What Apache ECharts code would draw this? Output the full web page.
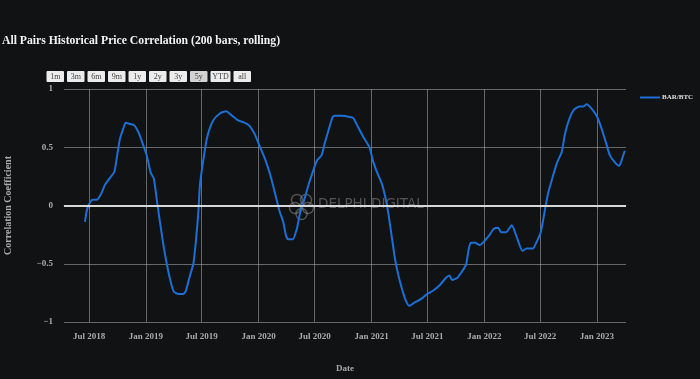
<!DOCTYPE html>
<html><head><meta charset="utf-8">
<script src="https://cdn.jsdelivr.net/npm/echarts@6/dist/echarts.min.js"></script>
<style>html,body{margin:0;padding:0;background:#111214;}#c{width:700px;height:379px;}</style>
</head><body><div id="c"></div>
<script>
const TITLE = 'All Pairs Historical Price Correlation (200 bars, rolling)';
const SERIES_NAME = 'BAR/BTC';
const Y_TICKS = [-1, -0.5, 0, 0.5, 1];
const RANGE_BUTTONS = ['1m','3m','6m','9m','1y','2y','3y','5y','YTD','all'];
const DATES = [
'2018-06-18','2018-06-24','2018-07-01','2018-07-12','2018-07-24','2018-07-31','2018-08-11','2018-08-22','2018-09-05','2018-09-21',
'2018-09-29','2018-10-09','2018-10-20','2018-10-28','2018-11-11','2018-11-24','2018-12-08','2018-12-22','2019-01-04','2019-01-17',
'2019-01-27','2019-02-05','2019-02-14','2019-02-27','2019-03-12','2019-03-23','2019-04-02','2019-04-16','2019-05-02','2019-05-11',
'2019-05-24','2019-06-04','2019-06-12','2019-06-20','2019-06-25','2019-07-04','2019-07-18','2019-08-07','2019-08-29','2019-09-18',
'2019-10-03','2019-10-27','2019-11-18','2019-12-04','2019-12-20','2020-01-06','2020-01-22','2020-02-07','2020-02-23','2020-03-08',
'2020-03-21','2020-03-30','2020-04-06','2020-04-21','2020-05-04','2020-05-14','2020-05-27','2020-06-10','2020-06-26','2020-07-09',
'2020-07-23','2020-08-03','2020-08-14','2020-08-28','2020-09-05','2020-09-26','2020-10-23','2020-11-03','2020-11-19','2020-12-05',
'2020-12-25','2021-01-07','2021-01-18','2021-02-03','2021-02-13','2021-02-24','2021-03-07','2021-03-18','2021-03-29','2021-04-09',
'2021-04-21','2021-05-03','2021-05-22','2021-06-12','2021-06-30','2021-07-20','2021-08-11','2021-08-30','2021-09-10','2021-09-19',
'2021-10-06','2021-10-20','2021-11-03','2021-11-10','2021-11-18','2021-12-02','2021-12-18','2022-01-03','2022-01-19','2022-02-01',
'2022-02-15','2022-02-24','2022-03-12','2022-03-31','2022-04-16','2022-05-05','2022-05-18','2022-06-07','2022-06-20','2022-07-03',
'2022-07-17','2022-07-27','2022-08-10','2022-08-25','2022-09-09','2022-09-19','2022-10-03','2022-10-18','2022-11-05','2022-11-18',
'2022-11-29','2022-12-15','2022-12-31','2023-01-16','2023-01-30','2023-02-12','2023-02-28','2023-03-14','2023-03-22','2023-04-01'
];
const VALUES = [
-0.14,-0.04,0.01,0.05,0.05,0.06,0.11,0.18,0.23,0.29,
0.41,0.57,0.66,0.71,0.70,0.69,0.63,0.53,0.43,0.28,
0.23,0.06,-0.11,-0.34,-0.53,-0.66,-0.74,-0.76,-0.76,-0.73,
-0.60,-0.50,-0.31,-0.06,0.17,0.35,0.58,0.73,0.79,0.81,
0.78,0.73,0.71,0.68,0.61,0.50,0.40,0.27,0.11,-0.04,
-0.14,-0.26,-0.29,-0.29,-0.20,-0.07,0.04,0.17,0.30,0.39,
0.43,0.54,0.64,0.76,0.77,0.77,0.76,0.75,0.67,0.59,
0.50,0.37,0.29,0.19,0.09,-0.06,-0.26,-0.46,-0.60,-0.71,
-0.81,-0.86,-0.83,-0.80,-0.76,-0.73,-0.68,-0.62,-0.60,-0.64,
-0.62,-0.57,-0.51,-0.40,-0.32,-0.32,-0.34,-0.30,-0.25,-0.20,
-0.19,-0.23,-0.23,-0.17,-0.27,-0.39,-0.37,-0.37,-0.31,-0.23,
-0.03,0.11,0.24,0.37,0.46,0.61,0.74,0.82,0.85,0.85,
0.87,0.83,0.77,0.66,0.54,0.43,0.37,0.34,0.39,0.47
];
const X_MIN = '2018-04-11';
const X_MAX = '2023-04-05';
const MONTHS = ['Jan','Feb','Mar','Apr','May','Jun','Jul','Aug','Sep','Oct','Nov','Dec'];

const chart = echarts.init(document.getElementById('c'));
const SERIF = '"Liberation Serif", "DejaVu Serif", serif';
const gridCol = 'rgba(160,160,160,0.6)';
const labCol = '#a9a9a9';

const buttons = [];
let bx = 46.5;
RANGE_BUTTONS.forEach((b, i) => {
  const w = b === 'YTD' ? 20 : 17.5;
  buttons.push({
    type: 'group', left: bx, top: 71,
    children: [
      {type: 'rect', shape: {x: 0, y: 0, width: w, height: 11, r: 1},
       style: {fill: b === '5y' ? '#d2d2d2' : '#ececec'}},
      {type: 'text', x: w / 2, y: 5.8,
       style: {text: b, fill: '#444', font: '8px ' + SERIF, textAlign: 'center', textVerticalAlign: 'middle'}}
    ]
  });
  bx += w + 3;
});

const wm = 'rgba(150,150,150,0.5)';
const option = {
  backgroundColor: '#111214',
  animation: false,
  title: {text: TITLE, left: 2, top: 35, padding: 0,
    textStyle: {color: '#f2f2f2', fontFamily: SERIF, fontWeight: 'bold', fontSize: 11.7}},
  legend: {show: true, left: 640, top: 94, padding: 0, itemWidth: 20, itemHeight: 2, icon: 'rect', itemGap: 4,
    textStyle: {color: '#e0e0e0', fontFamily: SERIF, fontWeight: 'bold', fontSize: 7, padding: [0, 0, 0, -3]},
    data: [SERIES_NAME]},
  grid: {left: 64, right: 74, top: 89, bottom: 57, containLabel: false, outerBoundsMode: 'none'},
  xAxis: {
    type: 'time', min: X_MIN, max: X_MAX,
    minInterval: 181 * 86400000, maxInterval: 184 * 86400000,
    name: 'Date', nameLocation: 'middle', nameGap: 42,
    nameTextStyle: {color: labCol, fontFamily: SERIF, fontWeight: 'bold', fontSize: 9},
    axisLine: {show: true, lineStyle: {color: gridCol, width: 1}},
    axisTick: {show: true, length: 3, lineStyle: {color: gridCol}},
    splitLine: {show: true, showMinLine: false, showMaxLine: false, lineStyle: {color: gridCol, width: 1}},
    axisLabel: {color: labCol, fontFamily: SERIF, fontWeight: 'bold', fontSize: 9, margin: 10,
      showMinLabel: false, showMaxLabel: false,
      formatter: function (v) { const d = new Date(v); return MONTHS[d.getMonth()] + ' ' + d.getFullYear(); }}
  },
  yAxis: {
    type: 'value', min: -1, max: 1, interval: 0.5,
    name: 'Correlation Coefficient', nameLocation: 'middle', nameGap: 51, nameRotate: 90,
    nameTextStyle: {color: labCol, fontFamily: SERIF, fontWeight: 'bold', fontSize: 10},
    axisLine: {show: false}, axisTick: {show: false},
    splitLine: {show: true, lineStyle: {color: gridCol, width: 1}},
    axisLabel: {color: labCol, fontFamily: SERIF, fontWeight: 'bold', fontSize: 9, margin: 11,
      formatter: function (v) { return v < 0 ? '\u2212' + Math.abs(v) : String(v); }}
  },
  graphic: buttons.concat([
    {type: 'group', left: 287, top: 192, silent: true, children: [
      {type: 'circle', shape: {cx: 8, cy: 6, r: 5.5}, style: {fill: 'none', stroke: wm, lineWidth: 1.4}},
      {type: 'circle', shape: {cx: 17, cy: 6, r: 5.5}, style: {fill: 'none', stroke: wm, lineWidth: 1.4}},
      {type: 'circle', shape: {cx: 6, cy: 14, r: 5.5}, style: {fill: 'none', stroke: wm, lineWidth: 1.4}},
      {type: 'circle', shape: {cx: 19, cy: 14, r: 5.5}, style: {fill: 'none', stroke: wm, lineWidth: 1.4}},
      {type: 'circle', shape: {cx: 12.5, cy: 20, r: 5.5}, style: {fill: 'none', stroke: wm, lineWidth: 1.4}}
    ]},
    {type: 'text', left: 318, top: 197, silent: true,
     style: {text: 'DELPHI DIGITAL', fill: wm, font: '13.5px "DejaVu Sans", sans-serif'}}
  ]),
  series: [{
    name: SERIES_NAME, type: 'line', showSymbol: false, symbol: 'none', smooth: 0.2,
    lineStyle: {color: '#1c6fd4', width: 2}, itemStyle: {color: '#1c6fd4'},
    data: DATES.map((d, i) => [d, VALUES[i]]),
    markLine: {silent: true, symbol: 'none', label: {show: false},
      lineStyle: {color: '#d8d8d8', width: 2, type: 'solid'}, data: [{yAxis: 0}]},
    z: 3
  }]
};
chart.setOption(option);
</script></body></html>
